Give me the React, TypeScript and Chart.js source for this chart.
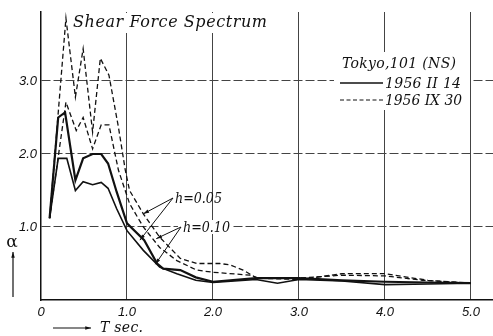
import { useEffect, useRef } from "react";
import { Chart, registerables } from "chart.js";

Chart.register(...registerables);

// ---- data ----
const xTickValues = [0, 1, 2, 3, 4, 5];
const xTickLabels = ["0", "1.0", "2.0", "3.0", "4.0", "5.0"];
const yTickValues = [0, 1, 2, 3];
const yTickLabels = ["", "1.0", "2.0", "3.0"];

// 1956 II 14, h=0.05 (solid, heavy)
const periodFeb05 = [0.1, 0.2, 0.28, 0.4, 0.49, 0.6, 0.7, 0.78, 0.88, 1.0, 1.2, 1.35, 1.42, 1.62, 1.8, 2.0, 2.5, 3.0, 3.5, 4.0, 4.5, 5.0];
const alphaFeb05 = [1.12, 2.5, 2.57, 1.64, 1.94, 2.0, 2.0, 1.87, 1.48, 1.05, 0.82, 0.5, 0.43, 0.41, 0.31, 0.25, 0.3, 0.3, 0.27, 0.25, 0.24, 0.23];

// 1956 II 14, h=0.10 (solid)
const periodFeb10 = [0.1, 0.2, 0.3, 0.4, 0.49, 0.6, 0.7, 0.78, 0.88, 1.0, 1.19, 1.38, 1.58, 1.8, 2.0, 2.5, 2.75, 3.0, 3.5, 4.0, 4.5, 5.0];
const alphaFeb10 = [1.12, 1.94, 1.94, 1.5, 1.62, 1.58, 1.61, 1.53, 1.25, 0.95, 0.68, 0.45, 0.36, 0.27, 0.24, 0.28, 0.23, 0.28, 0.26, 0.21, 0.22, 0.23];

// 1956 IX 30, h=0.05 (dashed)
const periodSep05 = [0.1, 0.29, 0.4, 0.49, 0.6, 0.69, 0.79, 0.9, 0.98, 1.03, 1.19, 1.38, 1.62, 1.81, 2.08, 2.2, 2.35, 2.51, 3.0, 3.5, 4.0, 4.5, 5.0];
const alphaSep05 = [1.12, 3.86, 2.78, 3.44, 2.3, 3.31, 3.08, 2.37, 1.78, 1.5, 1.18, 0.86, 0.57, 0.5, 0.5, 0.48, 0.41, 0.3, 0.28, 0.36, 0.36, 0.27, 0.23];

// 1956 IX 30, h=0.10 (dashed)
const periodSep10 = [0.1, 0.29, 0.41, 0.49, 0.6, 0.7, 0.79, 0.9, 1.03, 1.19, 1.38, 1.58, 1.81, 2.0, 2.43, 2.53, 3.0, 3.5, 4.0, 4.44, 5.0];
const alphaSep10 = [1.12, 2.71, 2.32, 2.5, 2.07, 2.4, 2.4, 1.78, 1.32, 1.0, 0.72, 0.54, 0.41, 0.38, 0.34, 0.3, 0.3, 0.34, 0.33, 0.27, 0.23];

// annotation arrow tips (data units)
const tips05 = [[1.19, 1.18], [1.15, 0.82]];
const tips10 = [[1.34, 0.84], [1.33, 0.49]];

const toPoints = (xs: number[], ys: number[]) => xs.map((x, i) => ({ x, y: ys[i] }));

function fitText(ctx: CanvasRenderingContext2D, text: string, x: number, y: number, width: number) {
  (ctx as any).letterSpacing = "0px";
  const w = ctx.measureText(text).width;
  const n = Array.from(text).length;
  const ls = n > 1 ? (width - w) / (n - 1) : 0;
  if (ls >= 0) {
    (ctx as any).letterSpacing = ls + "px";
    ctx.fillText(text, x, y);
  } else {
    ctx.fillText(text, x, y, width);
  }
  (ctx as any).letterSpacing = "0px";
}

function arrow(ctx: CanvasRenderingContext2D, x0: number, y0: number, x1: number, y1: number, head = 6) {
  ctx.beginPath();
  ctx.moveTo(x0, y0);
  ctx.lineTo(x1, y1);
  ctx.stroke();
  const a = Math.atan2(y1 - y0, x1 - x0);
  ctx.beginPath();
  ctx.moveTo(x1, y1);
  ctx.lineTo(x1 - head * Math.cos(a - 0.3), y1 - head * Math.sin(a - 0.3));
  ctx.lineTo(x1 - head * Math.cos(a + 0.3), y1 - head * Math.sin(a + 0.3));
  ctx.closePath();
  ctx.fill();
}

const textPlugin = {
  id: "textPlugin",
  afterDraw(chart: any) {
    const ctx: CanvasRenderingContext2D = chart.ctx;
    const xs = chart.scales.x;
    const ys = chart.scales.y;
    ctx.save();
    ctx.fillStyle = "#111";
    ctx.strokeStyle = "#111";
    ctx.textBaseline = "alphabetic";
    ctx.textAlign = "left";

    // title
    ctx.fillStyle = "#fff";
    ctx.fillRect(72, 13, 197, 20);
    ctx.fillStyle = "#111";
    ctx.font = 'italic 16px "DejaVu Serif"';
    fitText(ctx, "Shear Force Spectrum", 73, 27, 194);

    // legend
    ctx.fillStyle = "#fff";
    ctx.fillRect(334, 52, 136, 58);
    ctx.fillStyle = "#111";
    ctx.font = 'italic 14px "DejaVu Serif"';
    fitText(ctx, "Tokyo,101 (NS)", 342, 68, 114);
    fitText(ctx, "1956 II 14", 385, 88, 76);
    fitText(ctx, "1956 IX 30", 385, 105, 77);
    ctx.lineWidth = 1.3;
    ctx.beginPath();
    ctx.moveTo(340, 83);
    ctx.lineTo(383, 83);
    ctx.stroke();
    ctx.setLineDash([4, 2.5]);
    ctx.lineWidth = 1;
    ctx.beginPath();
    ctx.moveTo(340, 100);
    ctx.lineTo(384, 100);
    ctx.stroke();
    ctx.setLineDash([]);

    // h labels
    ctx.font = 'italic 14px "DejaVu Serif"';
    fitText(ctx, "h=0.05", 175, 203, 47);
    ctx.fillStyle = "#fff";
    ctx.fillRect(178, 220, 55, 14);
    ctx.fillStyle = "#111";
    fitText(ctx, "h=0.10", 183, 232, 47);
    ctx.lineWidth = 1;
    for (const [tx, ty] of tips05) {
      arrow(ctx, 173, 198, xs.getPixelForValue(tx), ys.getPixelForValue(ty), 6);
    }
    for (const [tx, ty] of tips10) {
      arrow(ctx, 181, 227, xs.getPixelForValue(tx), ys.getPixelForValue(ty), 6);
    }

    // alpha axis label
    ctx.font = '17px "DejaVu Serif"';
    ctx.textAlign = "center";
    ctx.fillText("α", 12, 247);
    ctx.lineWidth = 1.2;
    arrow(ctx, 13, 297, 13, 252, 6);

    // T sec label
    ctx.textAlign = "left";
    arrow(ctx, 53, 328, 91, 328, 6);
    ctx.font = 'italic 14px "DejaVu Serif"';
    fitText(ctx, "T sec.", 100, 332, 43);

    ctx.restore();
  },
};

export default function App() {
  const ref = useRef<HTMLCanvasElement | null>(null);
  useEffect(() => {
    if (!ref.current) return;
    const solid = { borderColor: "#111", pointRadius: 0, tension: 0, fill: false };
    const chart = new Chart(ref.current, {
      type: "line",
      data: {
        datasets: [
          { ...solid, label: "1956 II 14 h=0.05", data: toPoints(periodFeb05, alphaFeb05), borderWidth: 2.2 },
          { ...solid, label: "1956 II 14 h=0.10", data: toPoints(periodFeb10, alphaFeb10), borderWidth: 1.6 },
          { ...solid, label: "1956 IX 30 h=0.05", data: toPoints(periodSep05, alphaSep05), borderWidth: 1.3, borderDash: [5, 3] },
          { ...solid, label: "1956 IX 30 h=0.10", data: toPoints(periodSep10, alphaSep10), borderWidth: 1.3, borderDash: [5, 3] },
        ],
      },
      options: {
        animation: false,
        responsive: false,
        devicePixelRatio: 1,
        layout: { padding: { top: 12, left: 0, right: 0, bottom: 0 } },
        plugins: { legend: { display: false }, tooltip: { enabled: false }, title: { display: false } },
        scales: {
          x: {
            type: "linear",
            min: 0,
            max: 5.256,
            afterFit: (s: any) => { s.height = 36; },
            afterBuildTicks: (s: any) => { s.ticks = xTickValues.map((v) => ({ value: v })); },
            ticks: {
              callback: (v: any) => xTickLabels[xTickValues.indexOf(Number(v))] ?? "",
              font: { family: "Liberation Sans", size: 13, style: "italic" },
              color: "#111",
              padding: 5,
              maxRotation: 0,
              autoSkip: false,
            },
            grid: {
              drawTicks: false,
              color: (c: any) => (c.tick && c.tick.value === 0 ? "rgba(0,0,0,0)" : "#444"),
              lineWidth: 1,
            },
            border: { display: true, color: "#111", width: 1.5 },
          },
          y: {
            type: "linear",
            min: 0,
            max: 3.945,
            afterFit: (s: any) => { s.width = 41; },
            afterBuildTicks: (s: any) => { s.ticks = yTickValues.map((v) => ({ value: v })); },
            ticks: {
              callback: (v: any) => yTickLabels[yTickValues.indexOf(Number(v))] ?? "",
              font: { family: "Liberation Sans", size: 13, style: "italic" },
              color: "#111",
              padding: 4,
            },
            grid: {
              drawTicks: false,
              color: (c: any) => (c.tick && c.tick.value === 0 ? "rgba(0,0,0,0)" : "#444"),
              lineWidth: 1,
            },
            border: { display: true, color: "#111", width: 1.5, dash: [9, 3] },
          },
        },
      },
      plugins: [textPlugin],
    } as any);
    return () => chart.destroy();
  }, []);
  return (
    <div style={{ position: "absolute", left: 0, top: 0, width: 493, height: 336, background: "#fff" }}>
      <canvas ref={ref} width={493} height={336} style={{ display: "block" }} />
    </div>
  );
}
